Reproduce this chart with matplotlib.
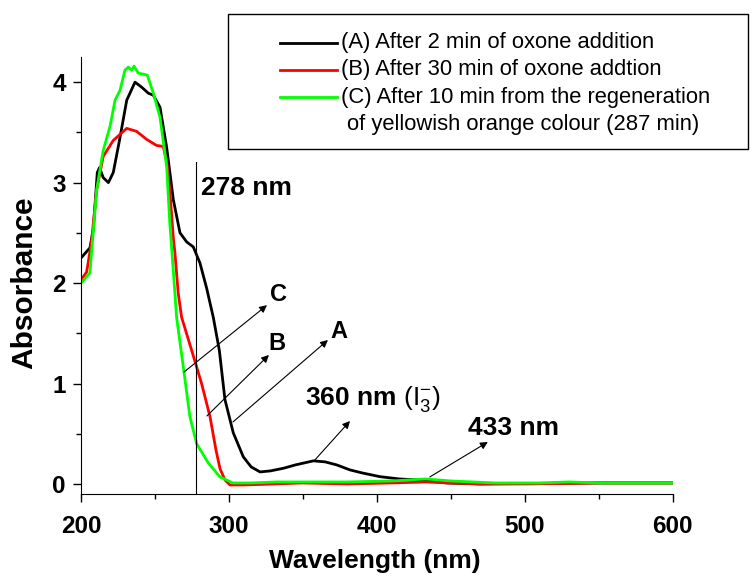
import matplotlib
matplotlib.use('Agg')
import matplotlib.pyplot as plt
from matplotlib.lines import Line2D
from matplotlib.patches import Rectangle
from matplotlib.ticker import MultipleLocator

plt.rcParams['font.family'] = 'Liberation Sans'
plt.rcParams['mathtext.fontset'] = 'custom'
plt.rcParams['mathtext.rm'] = 'Liberation Sans'
plt.rcParams['mathtext.bf'] = 'Liberation Sans:bold'
plt.rcParams['mathtext.it'] = 'Liberation Sans:italic'

# spectra (wavelength nm, absorbance)
a_nm = [200, 206, 208.3, 211, 212.5, 215, 218.5, 221.8, 226, 230.9, 236.5, 241, 245.5,
        248.9, 253.4, 257.9, 262.4, 266.9, 271.4, 275.9, 280.4, 284.9, 289.4, 293.5,
        297.3, 302.9, 309.7, 315, 321, 328, 336.7, 345, 357, 365, 372.8, 381.8, 390,
        402, 415, 429, 447, 470, 500, 550, 600]
a_abs = [2.25, 2.35, 2.53, 3.1, 3.15, 3.05, 3.0, 3.1, 3.42, 3.82, 4.0, 3.95, 3.89,
         3.87, 3.75, 3.35, 2.83, 2.5, 2.41, 2.36, 2.2, 1.95, 1.66, 1.33,
         0.84, 0.51, 0.27, 0.17, 0.12, 0.13, 0.156, 0.19, 0.23, 0.22, 0.19, 0.14, 0.11,
         0.073, 0.05, 0.04, 0.01, 0.0, 0.005, 0.01, 0.01]

b_nm = [200, 203.8, 207, 210.6, 215, 221.8, 230.9, 237.6, 244.4, 251.1, 255.6, 258, 260,
        262.4, 263.5, 265.7, 268, 274.8, 281.5, 287.2, 291.2, 294, 297.3, 300.7, 310,
        330, 350, 380, 410, 433, 450, 470, 500, 550, 600]
b_abs = [2.03, 2.11, 2.4, 2.93, 3.26, 3.42, 3.54, 3.51, 3.43, 3.37, 3.36, 3.2, 2.93,
         2.45, 2.3, 1.9, 1.66, 1.33, 1.0, 0.67, 0.34, 0.15, 0.04, -0.01, -0.01,
         0.0, 0.01, 0.0, 0.01, 0.02, 0.01, 0.0, 0.0, 0.01, 0.01]

c_nm = [200, 206, 210.6, 215, 219.6, 223, 226.4, 229.7, 232, 234.2, 235.8, 238.7, 242,
        244.8, 248.9, 253.4, 257.9, 260, 262, 264.6, 269.1, 273.6, 278.2, 286, 293.9,
        302.7, 315, 332, 350, 380, 410, 433, 450, 480, 510, 530, 550, 600]
c_abs = [2.0, 2.1, 2.93, 3.32, 3.56, 3.82, 3.92, 4.12, 4.15, 4.12, 4.16, 4.09, 4.08,
         4.07, 3.89, 3.65, 3.16, 2.6, 2.2, 1.66, 1.17, 0.67, 0.40, 0.21, 0.07,
         0.01, 0.01, 0.02, 0.02, 0.02, 0.03, 0.05, 0.03, 0.01, 0.01, 0.02, 0.01, 0.01]

labels = ['(A) After 2 min of oxone addition',
          '(B) After 30 min of oxone addtion',
          '(C) After 10 min from the regeneration',
          'of yellowish orange colour (287 min)']
colors = ['black', '#ff0000', '#00ff00']

fig = plt.figure(figsize=(7.55, 5.78), dpi=100)
ax = fig.add_axes([0.1073, 0.1453, 0.7838, 0.756])

ax.plot(a_nm, a_abs, color=colors[0], lw=2)
ax.plot(b_nm, b_abs, color=colors[1], lw=2)
ax.plot(c_nm, c_abs, color=colors[2], lw=2)

# 278 nm marker line
ax.plot([278, 278], [-0.1, 3.21], color='black', lw=0.8)

ax.set_xlim(200, 600)
ax.set_ylim(-0.1, 4.25)
ax.spines['top'].set_visible(False)
ax.spines['right'].set_visible(False)
ax.xaxis.set_major_locator(MultipleLocator(100))
ax.xaxis.set_minor_locator(MultipleLocator(50))
ax.yaxis.set_major_locator(MultipleLocator(1))
ax.yaxis.set_minor_locator(MultipleLocator(0.5))
ax.tick_params(which='major', direction='out', length=6, width=1, labelsize=17.5)
ax.tick_params(which='minor', direction='out', length=3.5, width=1)
ax.tick_params(axis='x', which='major', pad=9)
ax.tick_params(axis='y', which='major', pad=5)
for lab in ax.get_xticklabels() + ax.get_yticklabels():
    lab.set_fontweight('bold')

ax.set_xlabel('Wavelength (nm)', fontsize=19, fontweight='bold')
ax.set_ylabel('Absorbance', fontsize=21.5, fontweight='bold')
ax.xaxis.set_label_coords(0.497, -0.125)
ax.yaxis.set_label_coords(-0.072, 0.484)

# annotations
ax.text(281.1, 2.876, '278 nm', fontsize=19, fontweight='bold')
ax.text(351.4, 0.786, r'$\mathbf{360\ nm}$ (I$_{3}^{-}$)', fontsize=19)
ax.text(461.5, 0.488, '433 nm', fontsize=19, fontweight='bold')
ax.text(333.8, 1.886, 'C', fontsize=17, fontweight='bold', ha='center', va='center')
ax.text(332.1, 1.398, 'B', fontsize=17, fontweight='bold', ha='center', va='center')
ax.text(374.0, 1.517, 'A', fontsize=17, fontweight='bold', ha='center', va='center')

arrows = [((269.6, 1.114), (325.7, 1.78)),
          ((285.1, 0.677), (327.0, 1.284)),
          ((302.7, 0.617), (366.9, 1.433)),
          ((358.1, 0.239), (381.8, 0.627)),
          ((435.8, 0.07), (475.0, 0.418))]
for start, end in arrows:
    ax.annotate('', xy=end, xytext=start,
                arrowprops=dict(arrowstyle='-|>', lw=0.8, color='black',
                                mutation_scale=11, shrinkA=0, shrinkB=0))

# legend box drawn in figure coordinates
fig.patches.append(Rectangle((0.302, 0.742), 0.689, 0.234, transform=fig.transFigure,
                             fill=False, edgecolor='black', lw=1))
rows_y = [0.926, 0.879, 0.832]
for y, c, lab in zip(rows_y, colors, labels[:3]):
    fig.lines.append(Line2D([0.371, 0.446], [y, y], transform=fig.transFigure, color=c, lw=2))
    fig.text(0.452, y, lab, fontsize=15.8, va='center')
fig.text(0.460, 0.784, labels[3], fontsize=15.8, va='center')

fig.savefig('out.png', dpi=100)
